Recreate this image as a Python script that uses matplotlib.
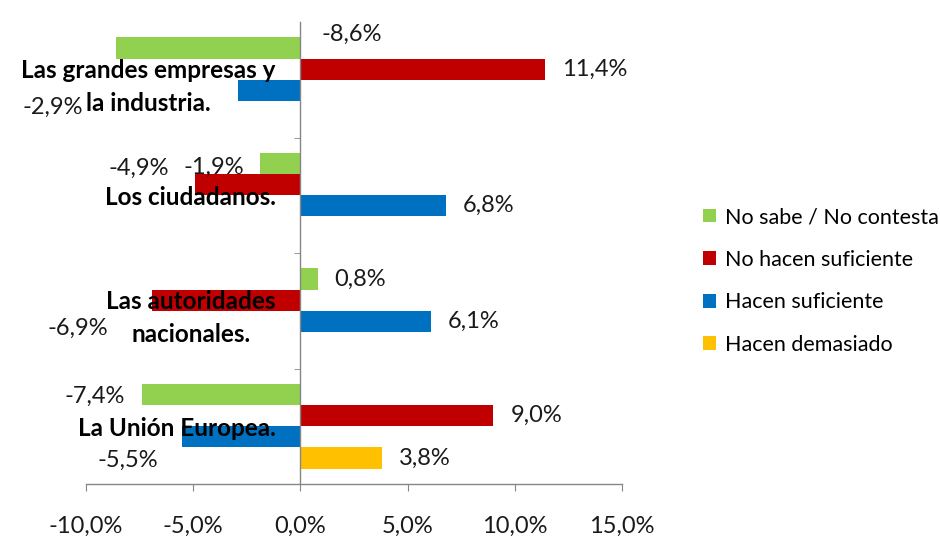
"""Horizontal grouped bar chart: opinion shifts by actor."""

import matplotlib
matplotlib.use("Agg")
import matplotlib.pyplot as plt
import numpy as np

plt.rcParams["font.family"] = ["Lato", "DejaVu Sans"]

categories = [
	"Las grandes empresas y\nla industria.",
	"Los ciudadanos.",
	"Las autoridades\nnacionales.",
	"La Unión Europea.",
]
series_names = [
	"No sabe / No contesta",
	"No hacen suficiente",
	"Hacen suficiente",
	"Hacen demasiado",
]
no_sabe = [-8.6, -1.9, 0.8, -7.4]
no_hacen = [11.4, -4.9, -6.9, 9.0]
hacen = [-2.9, 6.8, 6.1, -5.5]
demasiado = [0.0, 0.0, 0.0, 3.8]
xticks = [-10, -5, 0, 5, 10, 15]

COLORS = ["#92D050", "#C00000", "#0070C0", "#FFC000"]
AXIS_GRAY = "#868686"
TEXT = "#1a1a1a"
BAR_H = 0.183
VALUE_FS = 17

# where Excel dropped the labels of the negative bars (pixel offsets from bar end)
NEG_LABEL_OFFSETS = {
	(0, 0): (236, 14),
	(0, 2): (-185, -17),
	(1, 0): (-46, -4),
	(1, 1): (-57, 16),
	(2, 1): (-75, -28),
	(3, 0): (-47, -2),
	(3, 2): (-55, -24),
}


def pct(v):
	return f"{v:.1f}%".replace(".", ",")


fig = plt.figure(figsize=(9.4, 5.38), dpi=100)
ax = fig.add_axes([86 / 940, 1 - 484 / 538, (622 - 86) / 940, (484 - 22) / 538])

# spine move resets ticks, so do it before any tick styling
for side in ("top", "right"):
	ax.spines[side].set_visible(False)
ax.spines["left"].set_position(("data", 0))
for side in ("left", "bottom"):
	ax.spines[side].set_color(AXIS_GRAY)
	ax.spines[side].set_linewidth(1)

series = [no_sabe, no_hacen, hacen, demasiado]
centers = np.arange(len(categories))
for j, (name, vals, color) in enumerate(zip(series_names, series, COLORS)):
	ypos = centers + (j - 1.5) * BAR_H
	ax.barh(ypos, vals, height=BAR_H, color=color, label=name, zorder=1)
	for i, v in enumerate(vals):
		if v == 0:
			continue
		if v > 0:
			ax.annotate(pct(v), (v, ypos[i]), xytext=(17, 0), textcoords="offset pixels",
				ha="left", va="center", fontsize=VALUE_FS, color=TEXT)
		else:
			dx, dy = NEG_LABEL_OFFSETS.get((i, j), (-40, 0))
			ax.annotate(pct(v), (v, ypos[i]), xytext=(dx, dy), textcoords="offset pixels",
				ha="center", va="center", fontsize=VALUE_FS, color=TEXT)

ax.set_xlim(xticks[0], xticks[-1])
ax.set_ylim(len(categories) - 0.5, -0.5)

ax.tick_params(axis="x", direction="out", length=5, color=AXIS_GRAY, pad=18)
ax.set_xticks(xticks)
ax.set_xticklabels([pct(t) for t in xticks], fontsize=VALUE_FS, color=TEXT)

ax.tick_params(axis="y", which="major", length=0, pad=18)
ax.tick_params(axis="y", which="minor", direction="out", length=4, color=AXIS_GRAY)
ax.set_yticks(centers)
ax.set_yticks(centers[:-1] + 0.5, minor=True)
ax.set_yticklabels(categories, fontsize=17.5, fontweight="bold", multialignment="center",
	linespacing=1.55, color="black")

fig.legend(loc="center left", bbox_to_anchor=(694 / 940, 1 - 281 / 538), frameon=False,
	fontsize=15.5, handlelength=0.6, handleheight=0.6, handletextpad=0.45, labelspacing=1.05,
	borderaxespad=0)

fig.savefig("out.png", dpi=100)
